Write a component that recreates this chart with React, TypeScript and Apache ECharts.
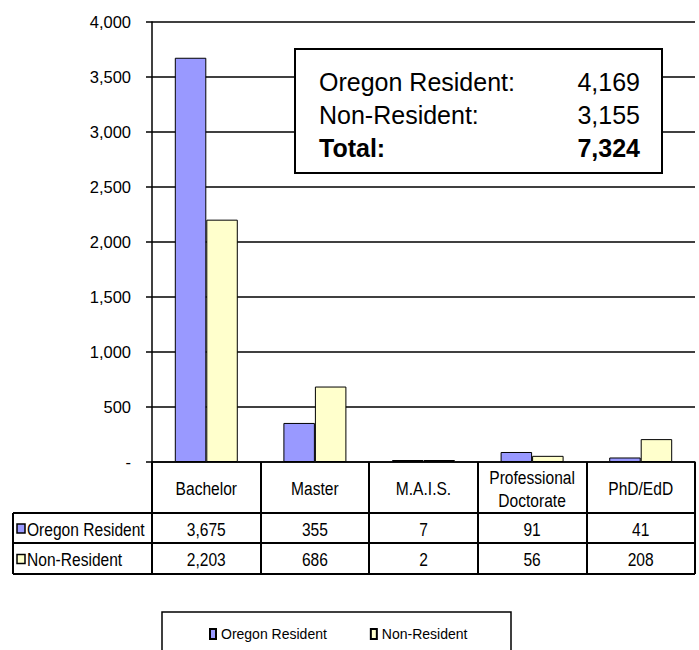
import React, { useEffect, useRef } from "react";
import * as echarts from "echarts";

const categories = ["Bachelor", "Master", "M.A.I.S.", "Professional\nDoctorate", "PhD/EdD"];
const seriesNames = ["Oregon Resident", "Non-Resident"];
const oregonResident = [3675, 355, 7, 91, 41];
const nonResident = [2203, 686, 2, 56, 208];
const seriesColors = ["#9999FF", "#FFFFCC"];
const summaryLabels = ["Oregon Resident:", "Non-Resident:", "Total:"];
const summaryValues = ["4,169", "3,155", "7,324"];
const yMax = 4000;
const yInterval = 500;

const FONT = "'Liberation Sans', Arial, sans-serif";
const fmt = (n: number) => n.toLocaleString("en-US");

export default function App() {
  const ref = useRef<HTMLDivElement>(null);
  useEffect(() => {
    if (!ref.current) return;
    const chart = echarts.init(ref.current, null, { renderer: "svg", width: 699, height: 650 });
    const gridLeft = 152;
    const gridRight = 4;
    const gridTop = 22;
    const gridBottom = 188;
    const axisY = 650 - gridBottom; // 462
    const headerBottom = 513;
    const row1Bottom = 543;
    const row2Bottom = 574;
    const tableLeft = 13;
    const tableRight = 699 - gridRight;
    const narrow = 0.82;
    const tFont = 19;

    chart.setOption({
      animation: false,
      backgroundColor: "#ffffff",
      textStyle: { fontFamily: FONT },
      grid: { left: gridLeft, right: gridRight, top: gridTop, bottom: gridBottom, containLabel: false },
      legend: {
        data: seriesNames,
        left: 209,
        top: 627,
        padding: 0,
        itemWidth: 6,
        itemHeight: 10,
        itemGap: 43,
        icon: "rect",
        textStyle: { fontSize: 14, color: "#000", fontFamily: FONT },
      },
      xAxis: {
        type: "category",
        data: categories,
        axisLine: { show: true, lineStyle: { color: "#000", width: 1.5 } },
        axisTick: { show: true, length: row2Bottom - axisY, lineStyle: { color: "#000", width: 2 } },
        axisLabel: { show: false },
        splitLine: { show: false },
      },
      yAxis: {
        type: "value",
        min: 0,
        max: yMax,
        interval: yInterval,
        axisLine: { show: true, lineStyle: { color: "#000", width: 1.5 } },
        axisTick: { show: true, length: 6, lineStyle: { color: "#000", width: 1.5 } },
        splitLine: { show: true, lineStyle: { color: "#000", width: 1.5 } },
        axisLabel: {
          margin: 21,
          fontSize: 16.5,
          color: "#000",
          fontFamily: FONT,
          formatter: (v: number) => (v === 0 ? "-" : fmt(v)),
        },
      },
      series: [
        {
          name: seriesNames[0],
          type: "bar",
          data: oregonResident,
          barGap: "0%",
          barCategoryGap: "42%",
          barMinHeight: 2,
          itemStyle: { color: seriesColors[0], borderColor: "#000", borderWidth: 1 },
        },
        {
          name: seriesNames[1],
          type: "bar",
          data: nonResident,
          barGap: "0%",
          barCategoryGap: "42%",
          barMinHeight: 2,
          itemStyle: { color: seriesColors[1], borderColor: "#000", borderWidth: 1 },
        },
      ],
    });

    const xs = categories.map((_, i) => chart.convertToPixel({ xAxisIndex: 0 }, i) as number);
    const rowsData = [oregonResident, nonResident];
    const rowCenters = [(headerBottom + row1Bottom) / 2 + 1, (row1Bottom + row2Bottom) / 2 + 1];
    const narrowText = (text: string, x: number, y: number, align: string, lineHeight?: number) => ({
      type: "text",
      z: 100,
      x,
      y,
      scaleX: narrow,
      style: {
        text,
        fontSize: tFont,
        fontFamily: FONT,
        fill: "#000",
        verticalAlign: "middle",
        align,
        lineHeight: lineHeight || tFont + 4,
      },
    });

    const graphics: any[] = [];
    categories.forEach((c, i) => {
      graphics.push(narrowText(c, xs[i], (axisY + headerBottom) / 2 + 1, "center", 23));
    });
    [headerBottom, row1Bottom, row2Bottom].forEach((y) => {
      graphics.push({
        type: "line",
        z: 100,
        shape: { x1: tableLeft, y1: y, x2: tableRight, y2: y },
        style: { stroke: "#000", lineWidth: 2 },
      });
    });
    graphics.push({
      type: "line",
      z: 100,
      shape: { x1: tableLeft, y1: headerBottom, x2: tableLeft, y2: row2Bottom },
      style: { stroke: "#000", lineWidth: 2 },
    });
    rowsData.forEach((vals, r) => {
      graphics.push({
        type: "rect",
        z: 100,
        shape: { x: 17, y: rowCenters[r] - 5, width: 8, height: 9 },
        style: { fill: seriesColors[r], stroke: "#000", lineWidth: 1.5 },
      });
      graphics.push(narrowText(seriesNames[r], 27, rowCenters[r], "left"));
      vals.forEach((v, i) => {
        graphics.push(narrowText(fmt(v), xs[i], rowCenters[r], "center"));
      });
    });
    graphics.push({
      type: "rect",
      z: 100,
      shape: { x: 295, y: 49, width: 367, height: 124 },
      style: { fill: "#fff", stroke: "#000", lineWidth: 2 },
    });
    summaryLabels.forEach((lab, i) => {
      const y = 82 + i * 33;
      const bold = i === 2;
      graphics.push({
        type: "text",
        z: 101,
        x: 319,
        y,
        style: { text: lab, fontSize: 25, fontFamily: FONT, fontWeight: bold ? "bold" : "normal", fill: "#000", verticalAlign: "middle", align: "left" },
      });
      graphics.push({
        type: "text",
        z: 101,
        x: 640,
        y,
        style: { text: summaryValues[i], fontSize: 25, fontFamily: FONT, fontWeight: bold ? "bold" : "normal", fill: "#000", verticalAlign: "middle", align: "right" },
      });
    });
    graphics.push({
      type: "rect",
      z: 1,
      shape: { x: 162, y: 612, width: 349, height: 50 },
      style: { fill: "#fff", stroke: "#000", lineWidth: 1.5 },
    });

    chart.setOption({ graphic: graphics });
    return () => chart.dispose();
  }, []);
  return (
    <div style={{ position: "fixed", left: 0, top: 0, width: 699, height: 650, background: "#fff" }}>
      <div ref={ref} style={{ width: 699, height: 650 }} />
    </div>
  );
}
